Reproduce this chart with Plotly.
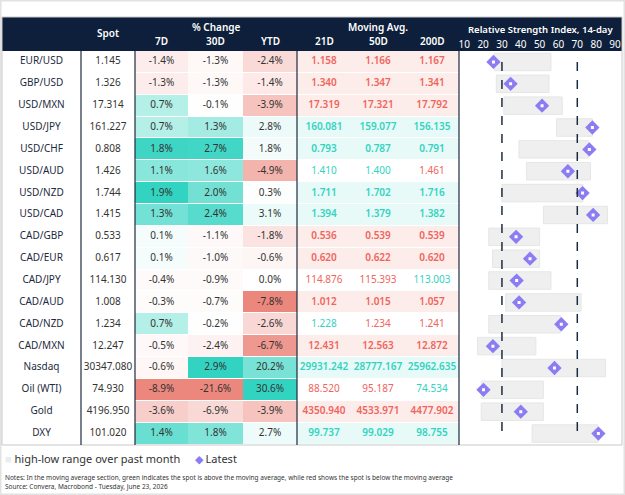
import numpy as np
import plotly.graph_objects as go

W, H = 625, 495

# table data
names = ["EUR/USD", "GBP/USD", "USD/MXN", "USD/JPY", "USD/CHF", "USD/AUD", "USD/NZD", "USD/CAD",
         "CAD/GBP", "CAD/EUR", "CAD/JPY", "CAD/AUD", "CAD/NZD", "CAD/MXN", "Nasdaq", "Oil (WTI)",
         "Gold", "DXY"]
spot = [1.145, 1.326, 17.314, 161.227, 0.808, 1.426, 1.744, 1.415, 0.533, 0.617, 114.130, 1.008,
        1.234, 12.247, 30347.080, 74.930, 4196.950, 101.020]
chg_7d = [-1.4, -1.3, 0.7, 0.7, 1.8, 1.1, 1.9, 1.3, 0.1, 0.1, -0.4, -0.3, 0.7, -0.5, -0.6, -8.9, -3.6, 1.4]
chg_30d = [-1.3, -1.3, -0.1, 1.3, 2.7, 1.6, 2.0, 2.4, -1.1, -1.0, -0.9, -0.7, -0.2, -2.4, 2.9, -21.6, -6.9, 1.8]
chg_ytd = [-2.4, -1.4, -3.9, 2.8, 1.8, -4.9, 0.3, 3.1, -1.8, -0.6, 0.0, -7.8, -2.6, -6.7, 20.2, 30.6, -3.9, 2.7]
ma_21d = [1.158, 1.340, 17.319, 160.081, 0.793, 1.410, 1.711, 1.394, 0.536, 0.620, 114.876, 1.012,
          1.228, 12.431, 29931.242, 88.520, 4350.940, 99.737]
ma_50d = [1.166, 1.347, 17.321, 159.077, 0.787, 1.400, 1.702, 1.379, 0.539, 0.622, 115.393, 1.015,
          1.234, 12.563, 28777.167, 95.187, 4533.971, 99.029]
ma_200d = [1.167, 1.341, 17.792, 156.135, 0.791, 1.461, 1.716, 1.382, 0.539, 0.620, 113.003, 1.057,
           1.241, 12.872, 25962.635, 74.534, 4477.902, 98.755]

# RSI (14-day): high-low range over past month and latest
rsi_low = [26, 27, 31, 59, 39, 43, 30, 52, 23, 25, 23, 32, 23, 17, 30, 19, 19, 46]
rsi_high = [56, 55, 62, 78, 76, 77, 73, 86, 50, 50, 56, 72, 61, 48, 85, 52, 52, 81]
rsi_latest = [25.5, 34.6, 51.3, 78, 76.4, 65, 72.8, 78.4, 37.5, 44.9, 37.8, 39.1, 61.5, 25.2, 57.9, 20.2, 40, 81.2]

col_heads = ["", "Spot", "7D", "30D", "YTD", "21D", "50D", "200D"]
col_edges = [2, 81, 135, 188, 243, 297, 351, 405, 459]

TEAL = "#33d3c1"
RED = "#ec877d"
NAVY = "#0e1f3b"
PURPLE = "#8c7cf4"
FONT = "Noto Sans"


def px(x):
    return x / W


def py(y):
    return 1 - y / H


def scaled(vals):
    hi = max(vals)
    lo = min(vals)
    out = []
    for v in vals:
        if v > 0:
            out.append(v / hi)
        elif v < 0:
            out.append(-v / lo)
        else:
            out.append(0.0)
    return out


n = len(names)
mas = [ma_21d, ma_50d, ma_200d]
z = np.zeros((n, 8))
z[:, 2] = scaled(chg_7d)
z[:, 3] = scaled(chg_30d)
z[:, 4] = scaled(chg_ytd)

texts, tcolors, tweights, xs, ys = [], [], [], [], []
centers = [(col_edges[i] + col_edges[i + 1]) / 2 for i in range(8)]
for i in range(n):
    above = [spot[i] > m[i] for m in mas]
    agree = all(above) or not any(above)
    if all(above):
        z[i, 5:8] = 0.12
    elif not any(above):
        z[i, 5:8] = -0.16
    row = [names[i], f"{spot[i]:.3f}", f"{chg_7d[i]:.1f}%", f"{chg_30d[i]:.1f}%", f"{chg_ytd[i]:.1f}%"]
    cols = ["#1d2a40", "#333333", "#333333", "#333333", "#333333"]
    weights = [400] * 5
    for k, m in enumerate(mas):
        row.append(f"{m[i]:.3f}")
        cols.append(TEAL if above[k] else "#f0645c")
        weights.append(600 if agree else 400)
    for j in range(8):
        texts.append(row[j])
        tcolors.append(cols[j])
        tweights.append(weights[j])
        xs.append(centers[j])
        ys.append(names[i])

fig = go.Figure()
fig.add_trace(go.Heatmap(
    x=col_edges, y=names, z=z, zmin=-1, zmax=1,
    colorscale=[[0, RED], [0.5, "#ffffff"], [1, TEAL]],
    showscale=False, ygap=1, hoverinfo="skip", showlegend=False,
))
fig.add_trace(go.Scatter(
    x=xs, y=ys, mode="text", text=texts,
    textfont=dict(family=FONT, size=10, color=tcolors, weight=tweights),
    hoverinfo="skip", showlegend=False,
))
fig.add_trace(go.Bar(
    y=names, base=rsi_low, x=[h - l for h, l in zip(rsi_high, rsi_low)],
    orientation="h", xaxis="x2", width=0.8,
    marker=dict(color="#efefef", line=dict(color="#e6e6e6", width=1)),
    name="high-low range over past month", showlegend=False,
))
fig.add_trace(go.Scatter(
    y=names, x=rsi_latest, mode="markers", xaxis="x2",
    marker=dict(symbol="diamond", size=11, color=PURPLE),
    name="Latest", showlegend=False,
))
fig.add_trace(go.Scatter(
    y=names, x=rsi_latest, mode="markers", xaxis="x2",
    marker=dict(symbol="square", size=3, color="white"),
    hoverinfo="skip", showlegend=False,
))

shapes = []
# page border
shapes.append(dict(type="rect", xref="paper", yref="paper", x0=0, x1=1, y0=0, y1=1,
                   line=dict(color="#e2e2e2", width=3), layer="above"))
# table frame
shapes.append(dict(type="rect", xref="paper", yref="paper", x0=px(2), x1=px(622), y0=py(445), y1=py(17),
                   line=dict(color="#c9c9c9", width=1), layer="above"))
# header band
shapes.append(dict(type="rect", xref="paper", yref="paper", x0=px(2), x1=px(622), y0=py(51), y1=py(17),
                   fillcolor=NAVY, line=dict(width=0), layer="below"))
# column separators
for xc in [81, 135, 297, 459]:
    shapes.append(dict(type="line", xref="paper", yref="paper", x0=px(xc), x1=px(xc), y0=py(445), y1=py(51),
                       line=dict(color="#1d2b3f", width=1.2), layer="above"))
# RSI 30 / 70 lines
for xv in [30, 70]:
    shapes.append(dict(type="line", xref="x2", yref="y", x0=xv, x1=xv, y0=0, y1=n - 1,
                       line=dict(color="#1d2b3f", width=1.5, dash="dash"), layer="above"))

ann = []


def head(text, x, y, size=10):
    ann.append(dict(text=text, x=px(x), y=py(y), xref="paper", yref="paper",
                    xanchor="center", yanchor="middle", showarrow=False,
                    font=dict(family=FONT, size=size, color="white", weight=600)))


def note(text, y, size):
    ann.append(dict(text=text, x=px(3), y=py(y), xref="paper", yref="paper",
                    xanchor="left", yanchor="middle", showarrow=False,
                    font=dict(family=FONT, size=size, color="#333333")))


head("Spot", 108, 33)
head("% Change", 216, 27)
head("Moving Avg.", 378, 27)
head("Relative Strength Index, 14-day", 540, 29, 9.5)
for j in range(2, 8):
    head(col_heads[j], centers[j], 41)

# legend
note("<span style='color:#ececec'>■</span> high-low range over past month"
     "     <span style='color:%s'>◆</span> Latest" % PURPLE, 458, 11)
note("Notes: In the moving average section, green indicates the spot is above the moving average, "
     "while red shows the spot is below the moving average", 477, 6.5)
note("Source: Convera, Macrobond - Tuesday, June 23, 2026", 486, 6.5)

fig.update_layout(
    width=W, height=H,
    margin=dict(l=0, r=0, t=0, b=0),
    paper_bgcolor="white", plot_bgcolor="rgba(0,0,0,0)",
    font=dict(family=FONT, color="#333333"),
    xaxis=dict(domain=[px(2), px(459)], range=[2, 459], visible=False, fixedrange=True),
    xaxis2=dict(domain=[px(459), px(621)], range=[7.2, 93.2], side="top", anchor="y",
                tickvals=[10, 20, 30, 40, 50, 60, 70, 80, 90], showgrid=False, zeroline=False,
                ticks="", tickfont=dict(family=FONT, size=10, color="white")),
    yaxis=dict(domain=[py(444.5), py(51)], range=[n - 0.5, -0.5], visible=False, type="category"),
    shapes=shapes, annotations=ann,
    showlegend=False,
)

fig.write_html("out.html", config={"displayModeBar": False},
               post_script="document.body.style.margin='0px';document.body.style.overflow='hidden';")
